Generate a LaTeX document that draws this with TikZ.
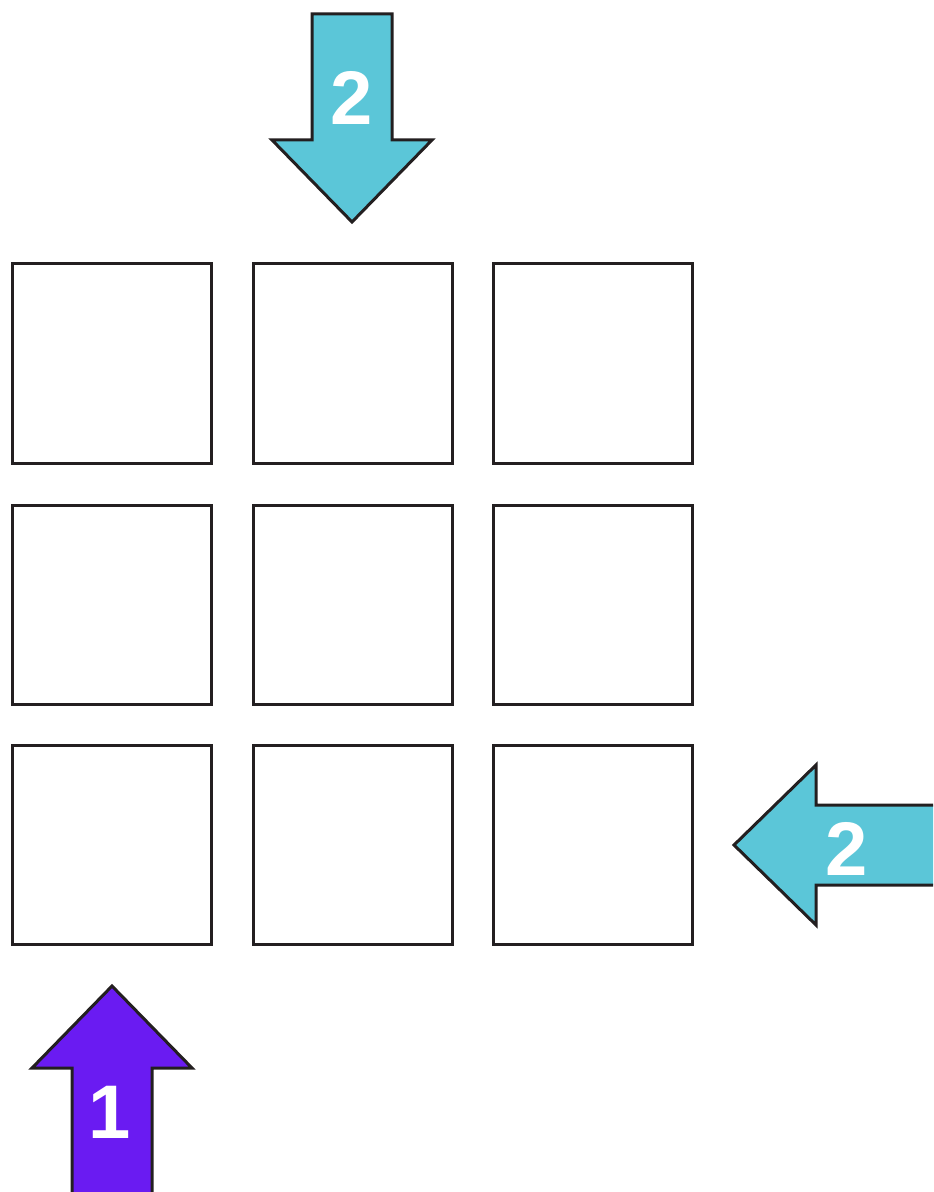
\documentclass[tikz,border=0pt]{standalone}
\usepackage{fontspec}
\setmainfont{Liberation Sans}
\definecolor{gridCyan}{HTML}{5BC6D8}
\definecolor{gridPurple}{HTML}{6A1BF2}
\definecolor{gridInk}{HTML}{231F20}
\tikzset{
  grid diagram/.style={
    line width=1.5pt, line join=miter,
    every node/.style={inner sep=0pt, outer sep=0pt}
  },
  grid cell/.style={draw=gridInk, fill=white, minimum size=99.5pt},
  grid arrow/.style={draw=gridInk, line width=1.5pt},
  grid label/.style={text=white, font=\fontsize{38}{40}\bfseries\selectfont}
}
% arrow pointing up, tip at #1, body length #2 (pixel units)
\newcommand{\GridArrow}[4]{%
  \begin{scope}[shift={#1}, rotate=#3]
    \draw[grid arrow, fill=#4]
      (0,0) -- (80,82) -- (40,82) -- (40,#2) -- (-40,#2)
      -- (-40,82) -- (-80,82) -- cycle;
  \end{scope}
}

\begin{document}
\begin{tikzpicture}[grid diagram, x=0.5pt, y=-0.5pt]
    \clip (0,0) rectangle (933,1192);
    % cells
    \foreach \gridRow/\gridY in {1/363.5,2/604.5,3/844.5} {
      \foreach \gridCol/\gridX in {1/111.5,2/352.5,3/592.5} {
        \node[grid cell] (cell\gridRow\gridCol) at (\gridX,\gridY) {};
      }
    }
    % arrows
    \GridArrow{(112,986)}{230}{0}{gridPurple}
    \GridArrow{(352,222)}{208}{180}{gridCyan}
    \GridArrow{(734,845)}{230}{90}{gridCyan}
    \node[grid label] (label1) at (110,1112) {1};
    \node[grid label] (label2top) at (352,98) {2};
    \node[grid label] (label2right) at (847,849) {2};
\end{tikzpicture}
\end{document}
